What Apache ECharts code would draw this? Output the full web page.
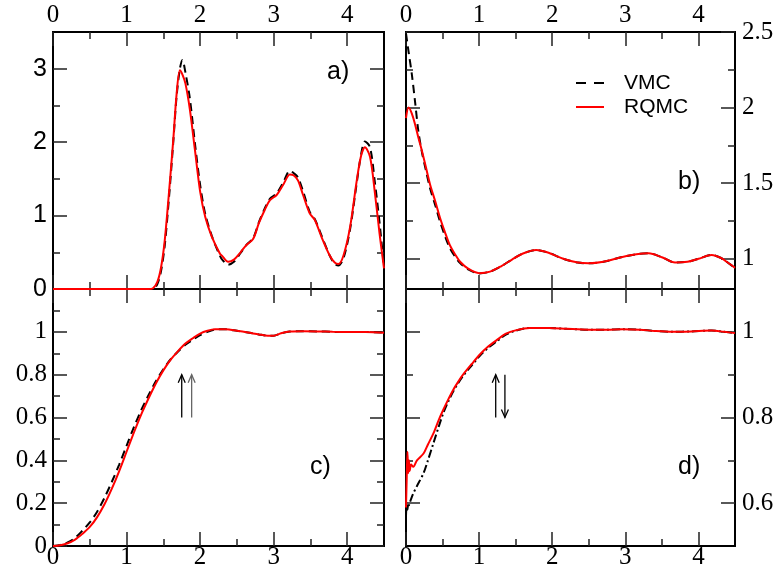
<!DOCTYPE html>
<html>
<head>
<meta charset="utf-8">
<script src="https://cdn.jsdelivr.net/npm/echarts@6/dist/echarts.min.js"></script>
</head>
<body style="margin:0">
<div id="chart" style="width:778px;height:576px"></div>
<script>
// ---- tick values shared by every panel (r axis) ----
const rTicks = [0, 1, 2, 3, 4];
const rMinor = [0.5, 1.5, 2.5, 3.5];

// ---- a) pair distribution g(r) ----
const aR = [0, 0.5, 1.0, 1.3, 1.36, 1.42, 1.47, 1.52, 1.58, 1.635, 1.68, 1.725, 1.76, 1.8, 1.86, 1.93, 2.0, 2.07, 2.16, 2.27, 2.3, 2.38, 2.46, 2.55, 2.63, 2.72, 2.8, 2.88, 2.95, 3.04, 3.13, 3.22, 3.27, 3.33, 3.4, 3.49, 3.56, 3.65, 3.76, 3.83, 3.88, 3.95, 4.04, 4.13, 4.19, 4.24, 4.31, 4.375, 4.44, 4.5];
const aVMC = [0, 0, 0, 0, 0, 0.07, 0.25, 0.6, 1.28, 2.0, 2.62, 3.0, 3.12, 2.95, 2.6, 1.98, 1.42, 1.02, 0.72, 0.45, 0.4, 0.33, 0.37, 0.49, 0.6, 0.69, 0.91, 1.1, 1.23, 1.3, 1.45, 1.61, 1.58, 1.52, 1.33, 1.05, 0.95, 0.73, 0.46, 0.34, 0.32, 0.42, 0.82, 1.45, 1.84, 2.01, 1.93, 1.46, 0.9, 0.3];
const aRQMC = [0, 0, 0, 0, 0.01, 0.1, 0.3, 0.67, 1.35, 2.03, 2.65, 2.98, 2.92, 2.8, 2.45, 1.89, 1.33, 0.98, 0.71, 0.48, 0.45, 0.37, 0.4, 0.5, 0.6, 0.68, 0.9, 1.08, 1.21, 1.28, 1.42, 1.56, 1.55, 1.48, 1.28, 1.03, 0.94, 0.71, 0.46, 0.36, 0.34, 0.46, 0.85, 1.48, 1.82, 1.93, 1.8, 1.32, 0.75, 0.28];
const aYTicks = [0, 1, 2, 3];
const aYMinor = [0.5, 1.5, 2.5];

// ---- b) ----
const bR = [0, 0.035, 0.08, 0.126, 0.17, 0.22, 0.27, 0.33, 0.4, 0.466, 0.53, 0.6, 0.67, 0.74, 0.85, 1.0, 1.15, 1.3, 1.45, 1.6, 1.78, 1.95, 2.15, 2.35, 2.5, 2.7, 2.96, 3.15, 3.32, 3.5, 3.68, 3.85, 4.0, 4.18, 4.31, 4.4, 4.5];
const bVMC = [2.49, 2.37, 2.22, 2.03, 1.84, 1.7, 1.59, 1.465, 1.355, 1.245, 1.155, 1.07, 1.015, 0.972, 0.93, 0.903, 0.915, 0.95, 0.995, 1.035, 1.058, 1.04, 1.0, 0.975, 0.97, 0.98, 1.012, 1.03, 1.036, 1.01, 0.975, 0.98, 1.0, 1.025, 1.005, 0.975, 0.94];
const bRQMC = [1.93, 2.0, 1.96, 1.885, 1.8, 1.71, 1.61, 1.49, 1.38, 1.27, 1.18, 1.09, 1.03, 0.98, 0.935, 0.905, 0.915, 0.95, 0.995, 1.035, 1.058, 1.04, 1.0, 0.975, 0.97, 0.98, 1.012, 1.03, 1.036, 1.01, 0.975, 0.98, 1.0, 1.025, 1.005, 0.975, 0.94];
const bYTicks = [1, 1.5, 2, 2.5];
const bYMinor = [1.25, 1.75, 2.25];

// ---- c) ----
const cR = [0, 0.1, 0.2, 0.3, 0.4, 0.5, 0.6, 0.7, 0.8, 0.9, 1.0, 1.1, 1.2, 1.3, 1.4, 1.5, 1.6, 1.7, 1.8, 1.9, 2.0, 2.1, 2.2, 2.35, 2.5, 2.65, 2.8, 2.92, 3.0, 3.1, 3.22, 3.4, 3.6, 3.8, 4.0, 4.25, 4.5];
const cVMC = [0, 0.005, 0.017, 0.038, 0.072, 0.11, 0.16, 0.225, 0.3, 0.38, 0.468, 0.555, 0.635, 0.705, 0.77, 0.825, 0.872, 0.908, 0.94, 0.963, 0.985, 1.0, 1.01, 1.012, 1.005, 0.997, 0.988, 0.982, 0.982, 0.993, 1.001, 1.003, 1.002, 1.0, 0.999, 0.999, 0.996];
const cRQMC = [0, 0.004, 0.013, 0.03, 0.057, 0.089, 0.135, 0.195, 0.268, 0.35, 0.44, 0.53, 0.615, 0.69, 0.76, 0.82, 0.87, 0.91, 0.945, 0.97, 0.992, 1.005, 1.012, 1.012, 1.005, 0.997, 0.988, 0.982, 0.982, 0.993, 1.001, 1.003, 1.002, 1.0, 0.999, 0.999, 0.996];
const cYTicks = [0, 0.2, 0.4, 0.6, 0.8, 1];
const cYMinor = [0.1, 0.3, 0.5, 0.7, 0.9, 1.1];
const cArrows = [[1.75, 0.6, 0.8], [1.885, 0.6, 0.8]];
const cArrowColors = ['#000000', '#666666'];

// ---- d) ----
const dR = [0, 0.01, 0.02, 0.03, 0.04, 0.05, 0.07, 0.1, 0.15, 0.24, 0.3, 0.375, 0.45, 0.51, 0.58, 0.647, 0.72, 0.78, 0.9, 1.01, 1.12, 1.236, 1.36, 1.51, 1.69, 1.96, 2.2, 2.5, 2.75, 2.96, 3.2, 3.4, 3.64, 3.9, 4.18, 4.35, 4.5];
const dVMC = [0.57, 0.6, 0.585, 0.6, 0.595, 0.6, 0.61, 0.623, 0.64, 0.67, 0.7, 0.74, 0.78, 0.81, 0.838, 0.861, 0.882, 0.897, 0.922, 0.944, 0.962, 0.977, 0.993, 1.003, 1.009, 1.009, 1.007, 1.005, 1.005, 1.006, 1.005, 1.002, 1.0, 1.001, 1.003, 1.0, 0.997];
const dRQMC = [0.59, 0.66, 0.72, 0.67, 0.7, 0.675, 0.69, 0.685, 0.7, 0.716, 0.737, 0.763, 0.795, 0.818, 0.843, 0.865, 0.885, 0.9, 0.925, 0.947, 0.965, 0.98, 0.995, 1.004, 1.009, 1.009, 1.007, 1.005, 1.005, 1.006, 1.005, 1.002, 1.0, 1.001, 1.003, 1.0, 0.997];
const dYTicks = [0.6, 0.8, 1];
const dYMinor = [0.7, 0.9];
const dArrows = [[1.227, 0.8, 0.9], [1.353, 0.9, 0.8]];
const dArrowColors = ['#000000', '#000000'];

const SERIF = 'Liberation Serif';
const SANS = 'Liberation Sans';
const MAJOR_LEN = 14;
const MINOR_LEN = 7;

// panel frames and their y ranges
const panels = [
  { left: 53, top: 32, width: 331, height: 257, yMin: 0, yMax: 3.5, yMajor: aYTicks, yMinorV: aYMinor, xLabel: 'top', yLabel: 'left', yFont: SANS },
  { left: 406, top: 32, width: 329, height: 257, yMin: 0.8, yMax: 2.5, yMajor: bYTicks, yMinorV: bYMinor, xLabel: 'top', yLabel: 'right', yFont: SERIF },
  { left: 53, top: 289, width: 331, height: 257, yMin: 0, yMax: 1.2, yMajor: cYTicks, yMinorV: cYMinor, xLabel: 'bottom', yLabel: 'left', yFont: SERIF },
  { left: 406, top: 289, width: 329, height: 257, yMin: 0.5, yMax: 1.1, yMajor: dYTicks, yMinorV: dYMinor, xLabel: 'bottom', yLabel: 'right', yFont: SERIF }
];

function makeAxis(g, pos, min, max, ticks, len) {
  return {
    type: 'value', gridIndex: g, position: pos, min: min, max: max,
    axisLine: { show: true, onZero: false, lineStyle: { color: '#000', width: 2 } },
    axisTick: { show: true, inside: true, length: len, customValues: ticks, lineStyle: { color: '#222', width: 1.5 } },
    axisLabel: { show: false },
    splitLine: { show: false },
    minorTick: { show: false }
  };
}

const grids = [], xAxes = [], yAxes = [];
panels.forEach((p, g) => {
  grids.push({ left: p.left, top: p.top, width: p.width, height: p.height, containLabel: false });
  // x: bottom major, bottom minor, top major, top minor
  ['bottom', 'top'].forEach(side => {
    xAxes.push(makeAxis(g, side, 0, 4.5, rTicks, MAJOR_LEN));
    xAxes.push(makeAxis(g, side, 0, 4.5, rMinor, MINOR_LEN));
  });
  // y: left major, left minor, right major, right minor
  ['left', 'right'].forEach(side => {
    yAxes.push(makeAxis(g, side, p.yMin, p.yMax, p.yMajor, MAJOR_LEN));
    yAxes.push(makeAxis(g, side, p.yMin, p.yMax, p.yMinorV, MINOR_LEN));
  });
});

function pairs(xs, ys) { return xs.map((x, i) => [x, ys[i]]); }

function curve(name, g, xs, ys, color, type) {
  return {
    name: name, type: 'line', xAxisIndex: 4 * g, yAxisIndex: 4 * g,
    data: pairs(xs, ys), showSymbol: false, symbol: 'none', smooth: 0.3,
    lineStyle: { color: color, width: 2, type: type },
    itemStyle: { color: color },
    z: name === 'RQMC' ? 4 : 3
  };
}

function arrowSeries(g, data, colors) {
  return {
    type: 'custom', xAxisIndex: 4 * g, yAxisIndex: 4 * g, silent: true,
    data: data, encode: { x: 0, y: [1, 2] }, z: 5,
    renderItem: function (params, api) {
      const p0 = api.coord([api.value(0), api.value(1)]);
      const p1 = api.coord([api.value(0), api.value(2)]);
      const dir = p1[1] < p0[1] ? 1 : -1;
      const col = colors[params.dataIndex];
      return {
        type: 'group',
        children: [
          { type: 'line', shape: { x1: p0[0], y1: p0[1], x2: p1[0], y2: p1[1] }, style: { stroke: col, lineWidth: 1.3 } },
          { type: 'polyline', shape: { points: [[p1[0] - 3.5, p1[1] + dir * 8], [p1[0], p1[1]], [p1[0] + 3.5, p1[1] + dir * 8]] },
            style: { stroke: col, lineWidth: 1.3, fill: 'none' } }
        ]
      };
    }
  };
}

// tick labels placed from the axis scales of a panel
function tickLabelSeries(g, p, dim) {
  const side = dim === 'x' ? p.xLabel : p.yLabel;
  const values = dim === 'x' ? rTicks : p.yMajor;
  const font = dim === 'x' ? SERIF : p.yFont;
  const edge = dim === 'x' ? (side === 'top' ? p.yMax : p.yMin) : (side === 'left' ? 0 : 4.5);
  const data = values.map(v => dim === 'x' ? [v, edge] : [edge, v]);
  return {
    type: 'custom', xAxisIndex: 4 * g, yAxisIndex: 4 * g, silent: true, clip: false, z: 6,
    data: data, encode: { x: 0, y: 1 },
    renderItem: function (params, api) {
      const v = values[params.dataIndex];
      const pt = api.coord([api.value(0), api.value(1)]);
      let x = pt[0], y = pt[1], align = 'center';
      if (side === 'top') y -= 16.5;
      else if (side === 'bottom') y += 11.5;
      else if (side === 'left') { x -= 6; align = 'right'; }
      else { x += 7; align = 'left'; }
      return {
        type: 'text', x: x, y: y,
        style: { text: String(v), fontFamily: font, fontSize: 25, fill: '#000', align: align, verticalAlign: 'middle' }
      };
    }
  };
}

const dash = [8, 5];
const dashDot = [8, 3, 2, 3];

const series = [
  curve('VMC', 0, aR, aVMC, '#000', dash),
  curve('RQMC', 0, aR, aRQMC, '#ff0000', 'solid'),
  curve('VMC', 1, bR, bVMC, '#000', dash),
  curve('RQMC', 1, bR, bRQMC, '#ff0000', 'solid'),
  curve('VMC', 2, cR, cVMC, '#000', dash),
  curve('RQMC', 2, cR, cRQMC, '#ff0000', 'solid'),
  curve('VMC', 3, dR, dVMC, '#000', dashDot),
  curve('RQMC', 3, dR, dRQMC, '#ff0000', 'solid'),
  arrowSeries(2, cArrows, cArrowColors),
  arrowSeries(3, dArrows, dArrowColors)
];
panels.forEach((p, g) => {
  series.push(tickLabelSeries(g, p, 'x'));
  series.push(tickLabelSeries(g, p, 'y'));
});

const panelLabel = (text, x, y) => ({
  type: 'text', x: x, y: y, z: 10,
  style: { text: text, fontFamily: SANS, fontSize: 25, fill: '#000', verticalAlign: 'middle', align: 'left' }
});

const hidden = { color: 'rgba(0,0,0,0)', borderWidth: 0, opacity: 0 };

const chart = echarts.init(document.getElementById('chart'));
chart.setOption({
  animation: false,
  backgroundColor: '#fff',
  grid: grids,
  xAxis: xAxes,
  yAxis: yAxes,
  legend: {
    orient: 'vertical', left: 575, top: 72, padding: 0, itemWidth: 28, itemHeight: 12, itemGap: 2,
    textStyle: { fontFamily: SANS, fontSize: 21, color: '#000', lineHeight: 22, padding: [0, 0, 0, 15] },
    data: [
      { name: 'VMC', itemStyle: hidden, lineStyle: { type: [10, 8], width: 2, color: '#000' } },
      { name: 'RQMC', itemStyle: hidden, lineStyle: { width: 2, color: '#ff0000' } }
    ]
  },
  graphic: [
    panelLabel('a)', 327, 72),
    panelLabel('b)', 678, 182),
    panelLabel('c)', 310, 467),
    panelLabel('d)', 678, 467)
  ],
  series: series
});
</script>
</body>
</html>
